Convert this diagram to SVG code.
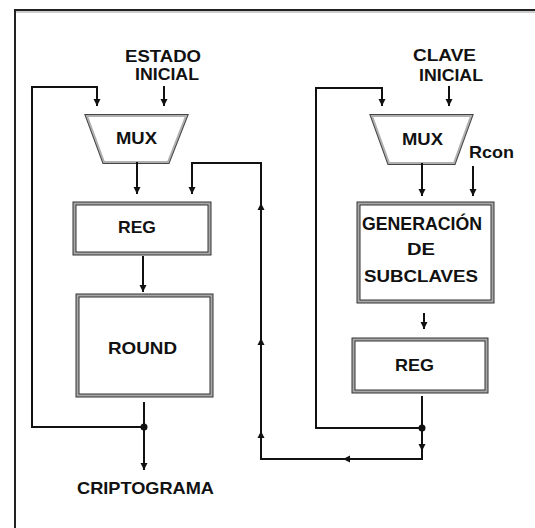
<svg xmlns="http://www.w3.org/2000/svg" width="535" height="528" viewBox="0 0 535 528">
<defs>
<marker id="ah" markerUnits="userSpaceOnUse" markerWidth="8" markerHeight="8" refX="7" refY="3.5" orient="auto"><path d="M0,0 L7,3.5 L0,7 z" fill="#111"/></marker>
</defs>
<style>
.t{font-family:"Liberation Sans",Arial,sans-serif;font-weight:bold;font-size:16.5px;fill:#111}
.ln{stroke:#111;stroke-width:2;fill:none}
.ob{fill:#a8a8a8;stroke:#333;stroke-width:1}
.ib{fill:#fff;stroke:#333;stroke-width:1}
.mo{fill:#fff;stroke:#444;stroke-width:4;stroke-linejoin:miter}
.mi{fill:#fff;stroke:#b0b0b0;stroke-width:2}
</style>
<rect width="535" height="528" fill="#fff"/>
<g id="frame">
<path d="M15,528 L15,10 L535,10" fill="none" stroke="#222" stroke-width="2"/>
<line x1="16" y1="12" x2="535" y2="12" stroke="#999" stroke-width="1"/>
</g>
<g id="estado-inicial"><text class="t" x="125" y="62" textLength="76" lengthAdjust="spacingAndGlyphs">ESTADO</text><text class="t" x="135" y="80" textLength="64" lengthAdjust="spacingAndGlyphs">INICIAL</text></g>
<g id="clave-inicial"><text class="t" x="413" y="61" textLength="63" lengthAdjust="spacingAndGlyphs">CLAVE</text><text class="t" x="419" y="81" textLength="64" lengthAdjust="spacingAndGlyphs">INICIAL</text></g>
<g id="mux1"><polygon class="mo" points="87,116 186,116 168,162 104,162"/><polygon class="mi" points="87,116 186,116 168,162 104,162"/><text class="t" x="116" y="144" textLength="41" lengthAdjust="spacingAndGlyphs">MUX</text></g>
<g id="mux2"><polygon class="mo" points="372,116 471,116 454,163 389,163"/><polygon class="mi" points="372,116 471,116 454,163 389,163"/><text class="t" x="402" y="145" textLength="41" lengthAdjust="spacingAndGlyphs">MUX</text></g>
<g id="rcon"><text class="t" x="469" y="158" textLength="45" lengthAdjust="spacingAndGlyphs">Rcon</text></g>
<g id="reg1"><rect class="ob" x="73" y="202" width="138" height="53"/><rect class="ib" x="76" y="205" width="132" height="47"/><text class="t" x="118" y="233" textLength="38" lengthAdjust="spacingAndGlyphs">REG</text></g>
<g id="round"><rect class="ob" x="76" y="294" width="137" height="103"/><rect class="ib" x="79" y="297" width="131" height="97"/><text class="t" x="108" y="354" textLength="69" lengthAdjust="spacingAndGlyphs">ROUND</text></g>
<g id="generacion"><rect class="ob" x="357" y="202" width="137" height="101"/><rect class="ib" x="360" y="205" width="131" height="95"/><text class="t" x="362" y="230" textLength="120" lengthAdjust="spacingAndGlyphs" style="font-size:18px">GENERACIÓN</text><text class="t" x="407" y="255" textLength="28" lengthAdjust="spacingAndGlyphs">DE</text><text class="t" x="364" y="282" textLength="114" lengthAdjust="spacingAndGlyphs">SUBCLAVES</text></g>
<g id="reg2"><rect class="ob" x="352" y="338" width="136" height="55"/><rect class="ib" x="355" y="341" width="130" height="49"/><text class="t" x="395" y="371" textLength="39" lengthAdjust="spacingAndGlyphs">REG</text></g>
<g id="criptograma"><text class="t" x="77" y="494" textLength="137" lengthAdjust="spacingAndGlyphs">CRIPTOGRAMA</text></g>
<g id="connectors">
<path class="ln" d="M144,402 L144,470" marker-end="url(#ah)"/>
<path class="ln" d="M144,427 L32,427 L32,87 L97,87 L97,106" marker-end="url(#ah)"/>
<path class="ln" d="M164,86 L164,106" marker-end="url(#ah)"/>
<path class="ln" d="M137,162 L137,194" marker-end="url(#ah)"/>
<path class="ln" d="M143,256 L143,292" marker-end="url(#ah)"/>
<path class="ln" d="M422,396 L422,459 L261,459 L261,163 L192,163 L192,194" marker-end="url(#ah)"/>
<path class="ln" d="M422,428 L316,428 L316,88 L382,88 L382,106" marker-end="url(#ah)"/>
<path class="ln" d="M449,86 L449,106" marker-end="url(#ah)"/>
<path class="ln" d="M422,163 L422,196" marker-end="url(#ah)"/>
<path class="ln" d="M473,166 L473,196" marker-end="url(#ah)"/>
<path class="ln" d="M424,313 L424,329" marker-end="url(#ah)"/>
<polygon points="261,203 257.5,210 264.5,210" fill="#111"/>
<polygon points="261,338 257.5,345 264.5,345" fill="#111"/>
<polygon points="261,431 257.5,438 264.5,438" fill="#111"/>
<polygon points="343,459 350,455.5 350,462.5" fill="#111"/>
<polygon points="422,451 418.5,444 425.5,444" fill="#111"/>
<circle cx="144" cy="427" r="3.5" fill="#111"/>
<circle cx="422" cy="428" r="3.5" fill="#111"/>
</g>
</svg>
